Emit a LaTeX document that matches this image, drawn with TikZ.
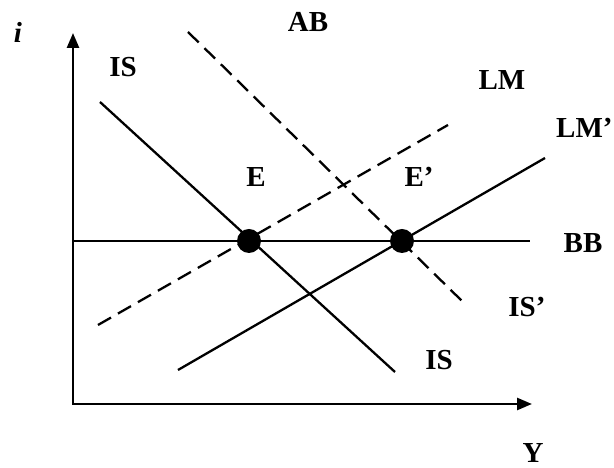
\documentclass[tikz,border=0pt]{standalone}
\usepackage{fontspec}
\setmainfont{Liberation Serif}
\usetikzlibrary{arrows.meta}
\begin{document}
\begin{tikzpicture}[x=1pt,y=1pt,font=\fontsize{29}{31}\selectfont\bfseries,
  curve/.style={line width=2.3pt},
  dashcurve/.style={curve,dash pattern=on 15pt off 8pt},
  axis/.style={line width=2.6pt,{Triangle[length=15pt,width=12pt]}-{Triangle[length=15pt,width=12pt]}},
  eq/.style={circle,fill,inner sep=0pt,minimum size=24pt}]
\useasboundingbox(0,0)rectangle(614,468);
% axes
\coordinate(ytip)at(73,435);\coordinate(o)at(73,64);\coordinate(xtip)at(532,64);
\draw[axis](ytip)--(o)--(xtip);
\node(ilab)at(18,436){\itshape i};\node[inner sep=0pt](ylab)at(533,15){Y};
% curves
\coordinate(bb1)at(73,227);\coordinate(bb2)at(530,227);
\draw[curve](bb1)--(bb2);
\coordinate(is1)at(100,366);\coordinate(is2)at(395,96);
\draw[curve](is1)--(is2);
\coordinate(lmb1)at(178,98);\coordinate(lmb2)at(545,310);
\draw[curve](lmb1)--(lmb2);
\coordinate(lma1)at(98,143);\coordinate(lma2)at(448,343);
\draw[dashcurve](lma1)--(lma2);
\coordinate(ab1)at(188,436);\coordinate(ab2)at(463,166);
\draw[dashcurve](ab1)--(ab2);
% equilibria
\node[eq](e)at(249,227){};\node[eq](e2)at(402,227){};
\node(elab)at(256,291){E};\node(e2lab)at(419,291){E'};
% labels
\node(islab)at(123,401){IS};\node(ablab)at(308,446){AB};
\node(lmlab)at(502,388){LM};\node[anchor=west,inner sep=0pt](lm2lab)at(556,340){LM'};
\node(bblab)at(583,225){BB};\node(is2lab)at(527,161){IS'};
\node(is3lab)at(439,108){IS};
\end{tikzpicture}
\end{document}
